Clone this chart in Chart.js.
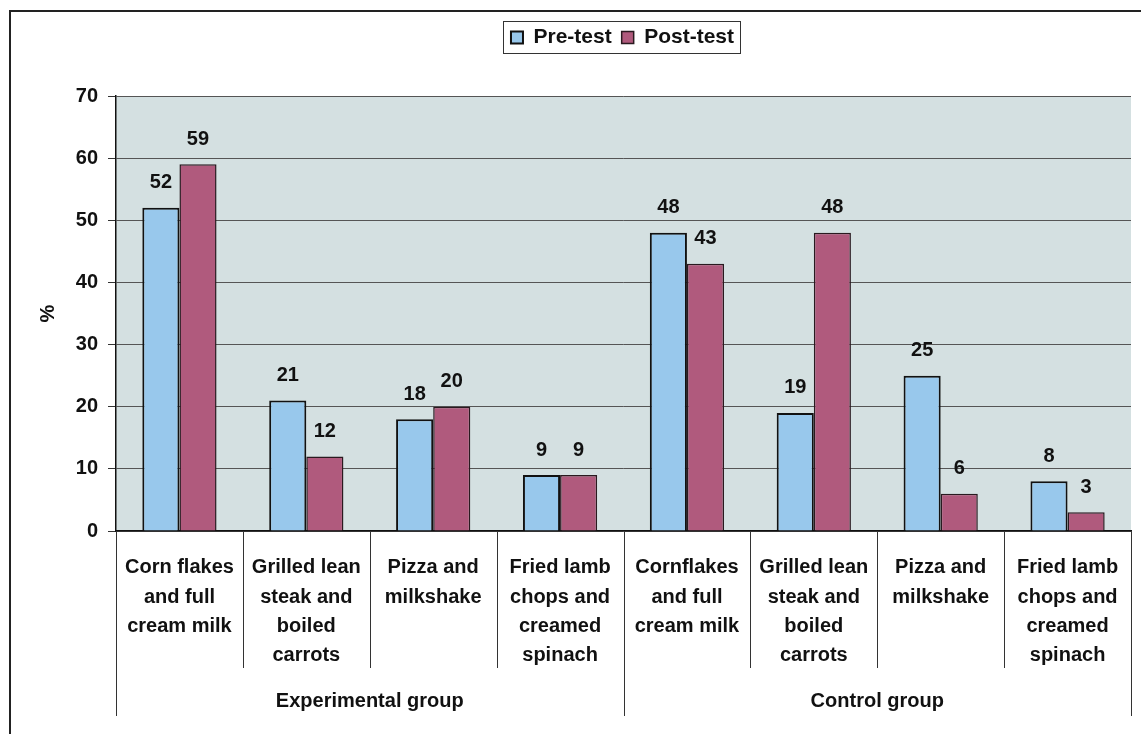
<!DOCTYPE html>
<html>
<head>
<meta charset="utf-8">
<script src="https://cdn.jsdelivr.net/npm/chart.js@4.4.1/dist/chart.umd.min.js"></script>
<style>
  html, body { margin: 0; padding: 0; background: #ffffff; }
  #wrap { position: relative; width: 1141px; height: 734px; }
  #frame { position: absolute; left: 9px; top: 10px; width: 1132px; height: 724px;
           border-left: 2px solid #222; border-top: 2px solid #222; box-sizing: border-box; }
  canvas { position: absolute; left: 0; top: 0; }
</style>
</head>
<body>
<div id="wrap">
  <div id="frame"></div>
  <canvas id="c" width="1141" height="734"></canvas>
</div>
<script>
const categories = [
  ["Corn flakes", "and full", "cream milk"],
  ["Grilled lean", "steak and", "boiled", "carrots"],
  ["Pizza and", "milkshake"],
  ["Fried lamb", "chops and", "creamed", "spinach"],
  ["Cornflakes", "and full", "cream milk"],
  ["Grilled lean", "steak and", "boiled", "carrots"],
  ["Pizza and", "milkshake"],
  ["Fried lamb", "chops and", "creamed", "spinach"]
];
const groupLabels = ["Experimental group", "Control group"];
const groupSize = 4;
const preTest = [52, 21, 18, 9, 48, 19, 25, 8];
const postTest = [59, 12, 20, 9, 43, 48, 6, 3];
const seriesNames = ["Pre-test", "Post-test"];
const yTicks = [0, 10, 20, 30, 40, 50, 60, 70];

const FONT = "'Liberation Sans', Arial, sans-serif";

const decor = {
  id: 'decor',
  beforeInit(chart) {
    const lg = chart.legend;
    if (lg) {
      const origFit = lg.fit.bind(lg);
      lg.fit = function () { origFit(); this.height += 38; };
    }
  },
  afterLayout(chart) {
    const lg = chart.legend;
    if (lg) { lg.left += 47; lg.right += 47; }
  },
  beforeDraw(chart) {
    const a = chart.chartArea, ctx = chart.ctx;
    ctx.save();
    ctx.fillStyle = '#d4e0e1';
    ctx.fillRect(a.left, a.top, a.right - a.left, a.bottom - a.top);
    ctx.restore();
  },
  afterDatasetsDraw(chart) {
    const ctx = chart.ctx;
    ctx.save();
    ctx.font = 'bold 20px ' + FONT;
    ctx.fillStyle = '#111';
    ctx.textAlign = 'center';
    ctx.textBaseline = 'middle';
    chart.data.datasets.forEach((ds, di) => {
      const meta = chart.getDatasetMeta(di);
      meta.data.forEach((bar, i) => {
        ctx.fillText(String(ds.data[i]), bar.x, bar.y - 25);
      });
    });
    ctx.restore();
  },
  afterDraw(chart) {
    const ctx = chart.ctx, a = chart.chartArea;
    const xs = chart.scales.x, x2 = chart.scales.x2;
    const half = (xs.getPixelForValue(1) - xs.getPixelForValue(0)) / 2;
    ctx.save();
    ctx.strokeStyle = '#333';
    ctx.lineWidth = 1;
    for (let i = 0; i <= categories.length; i++) {
      const x = Math.round(xs.getPixelForValue(0) - half + 2 * half * i) + 0.5;
      const isGroup = i % groupSize === 0;
      ctx.beginPath();
      ctx.moveTo(x, a.bottom);
      ctx.lineTo(x, isGroup ? x2.top + 48 : xs.bottom);
      ctx.stroke();
    }
    // legend frame
    const lg = chart.legend;
    if (lg && lg.legendHitBoxes && lg.legendHitBoxes.length) {
      const hb = lg.legendHitBoxes;
      const l = hb[0].left - 8, r = hb[hb.length - 1].left + hb[hb.length - 1].width + 6;
      const t = hb[0].top - 6, b = hb[0].top + hb[0].height + 5;
      ctx.strokeStyle = '#333';
      ctx.lineWidth = 1;
      ctx.strokeRect(Math.round(l) + 0.5, Math.round(t) + 0.5, Math.round(r - l), Math.round(b - t));
    }
    ctx.restore();
  }
};

new Chart(document.getElementById('c'), {
  type: 'bar',
  data: {
    labels: categories,
    datasets: [
      { label: seriesNames[0], data: preTest, backgroundColor: '#98c8ec', borderColor: '#111', borderWidth: 2, xAxisID: 'x' },
      { label: seriesNames[1], data: postTest, backgroundColor: '#b05a7d', borderColor: '#2a1a20', borderWidth: 1.5, xAxisID: 'x' }
    ]
  },
  options: {
    responsive: false,
    animation: false,
    devicePixelRatio: 1,
    layout: { padding: { left: 20, right: 10, top: 17, bottom: 10 } },
    datasets: { bar: { categoryPercentage: 0.585, barPercentage: 1.0 } },
    plugins: {
      legend: {
        position: 'top',
        labels: {
          font: { family: FONT, size: 21, weight: 'bold' },
          color: '#111',
          boxWidth: 12, boxHeight: 12, padding: 10
        }
      },
      tooltip: { enabled: false }
    },
    scales: {
      x: {
        type: 'category',
        position: 'bottom',
        weight: 0,
        offset: true,
        grid: { display: false },
        border: { display: true, color: '#111', width: 1.5 },
        ticks: {
          font: { family: FONT, size: 20, weight: 'bold', lineHeight: 1.47 },
          color: '#111', maxRotation: 0, autoSkip: false, padding: 14
        },
        afterFit(s) { s.height = 137; }
      },
      x2: {
        type: 'category',
        position: 'bottom',
        weight: 1,
        labels: groupLabels,
        offset: true,
        grid: { display: false },
        border: { display: false },
        ticks: {
          font: { family: FONT, size: 20, weight: 'bold' },
          color: '#111', maxRotation: 0, autoSkip: false, padding: 13
        },
        afterFit(s) { s.height = 56; }
      },
      y: {
        min: 0, max: 70,
        afterBuildTicks(s) { s.ticks = yTicks.map(v => ({ value: v })); },
        grid: { color: '#555', lineWidth: 1, tickLength: 8, drawTicks: true, tickColor: '#333' },
        border: { display: true, color: '#111', width: 1.5 },
        ticks: { font: { family: FONT, size: 20, weight: 'bold' }, color: '#111', padding: 10 },
        title: { display: true, text: '%', font: { family: FONT, size: 20, weight: 'bold' }, color: '#111', padding: { top: 16, bottom: 8 } },
        afterFit(s) { s.width = 96; }
      }
    }
  },
  plugins: [decor]
});
</script>
</body>
</html>
